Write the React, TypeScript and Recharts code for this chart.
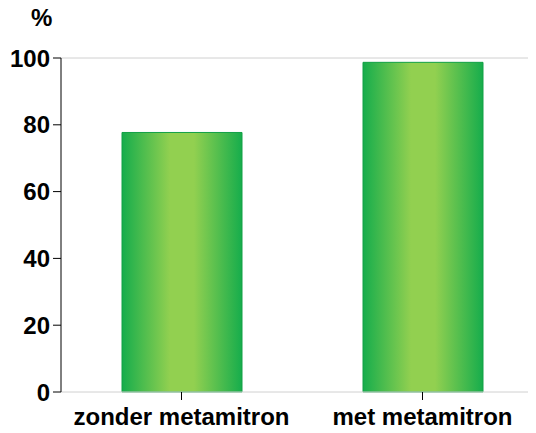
import React from 'react';
import { BarChart, Bar, XAxis, YAxis, ReferenceLine } from 'recharts';

const categories = ['zonder metamitron', 'met metamitron'];
const values = [77.7, 98.7];
const yTicks = [0, 20, 40, 60, 80, 100];

const data = categories.map((name, i) => ({ name, value: values[i] }));

const font = { fontFamily: '"Liberation Sans", Arial, sans-serif', fontWeight: 'bold', fontSize: 24, fill: '#000' };

const App: React.FC = () => {
  return (
    <div style={{ position: 'relative', margin: -8, width: 536, height: 433, overflow: 'hidden', background: '#fff' }}>
      <div style={{ position: 'absolute', left: 31, top: 4, ...font, color: '#000' }}>%</div>
      <BarChart width={543} height={433} data={data} margin={{ top: 58, right: 0, bottom: 0, left: 0 }}>
        <defs>
          <linearGradient id="barGrad" x1="0" y1="0" x2="1" y2="0">
            <stop offset="0%" stopColor="#16ad4c" />
            <stop offset="40%" stopColor="#92d050" />
            <stop offset="60%" stopColor="#92d050" />
            <stop offset="100%" stopColor="#16ad4c" />
          </linearGradient>
        </defs>
        <XAxis
          dataKey="name"
          height={41}
          tick={font}
          tickSize={8}
          tickMargin={8}
          axisLine={{ stroke: '#d0d0d0' }}
          tickLine={{ stroke: '#000' }}
        />
        <YAxis
          width={61}
          domain={[0, 100]}
          ticks={yTicks}
          tick={font}
          tickSize={8}
          tickMargin={3}
          axisLine={{ stroke: '#000' }}
          tickLine={{ stroke: '#000' }}
        />
        <ReferenceLine y={100} stroke="#d0d0d0" />
        <Bar dataKey="value" barSize={120} fill="url(#barGrad)" stroke="#12a045" strokeWidth={1} isAnimationActive={false} />
      </BarChart>
    </div>
  );
};

export default App;
